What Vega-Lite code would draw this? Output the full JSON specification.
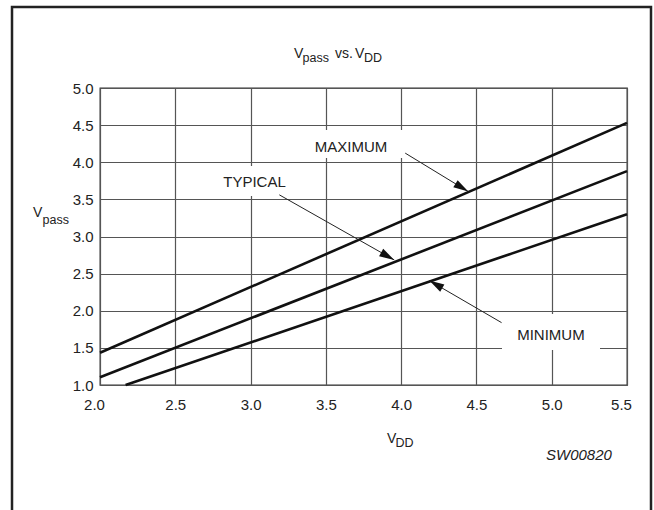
{
  "$schema": "https://vega.github.io/schema/vega-lite/v6.json",
  "width": 527,
  "height": 297,
  "autosize": {"type": "none"},
  "padding": {"left": 100, "top": 88, "right": 27, "bottom": 125},
  "background": "white",
  "config": {
    "font": "Liberation Sans",
    "view": {"stroke": "#333", "strokeWidth": 1.3},
    "axis": {
      "labelFont": "Liberation Sans",
      "labelFontSize": 15,
      "labelColor": "#222",
      "domain": false,
      "ticks": false,
      "grid": true,
      "gridColor": "#555",
      "gridWidth": 1.2,
      "gridOpacity": 1,
      "labelOverlap": false,
      "labelFlush": false
    }
  },
  "datasets": {
    "frame": [{"x": 1.4156, "x2": 5.6594, "y": 6.0909, "y2": -0.8182}],
    "boxes": [
      {"label": "MAXIMUM", "x": 3.3615, "x2": 4.019, "y": 4.4343, "y2": 4.0572},
      {"label": "TYPICAL", "x": 2.7438, "x2": 3.2951, "y": 3.9495, "y2": 3.5455},
      {"label": "MINIMUM", "x": 4.6698, "x2": 5.3207, "y": 1.9562, "y2": 1.4714}
    ],
    "curves": [
      {"series": "MAXIMUM", "x": 2.0, "y": 1.435},
      {"series": "MAXIMUM", "x": 5.5, "y": 4.53},
      {"series": "TYPICAL", "x": 2.0, "y": 1.105},
      {"series": "TYPICAL", "x": 5.5, "y": 3.88},
      {"series": "MINIMUM", "x": 2.17, "y": 1.0},
      {"series": "MINIMUM", "x": 5.5, "y": 3.3}
    ],
    "arrows": [
      {"label": "MAXIMUM", "x": 4.446, "y": 3.605, "xs": 4.027, "ys": 4.123},
      {"label": "TYPICAL", "x": 3.954, "y": 2.685, "xs": 3.191, "ys": 3.561},
      {"label": "MINIMUM", "x": 4.187, "y": 2.406, "xs": 4.667, "ys": 1.84}
    ],
    "annotations": [
      {"label": "MAXIMUM", "x": 3.667, "y": 4.138},
      {"label": "TYPICAL", "x": 3.026, "y": 3.667},
      {"label": "MINIMUM", "x": 4.995, "y": 1.606}
    ],
    "titleMain": [
      {"label": "V", "x": 3.2884, "y": 5.404},
      {"label": "vs.", "x": 3.5607, "y": 5.404},
      {"label": "V", "x": 3.6936, "y": 5.404}
    ],
    "titleSub": [
      {"label": "pass", "x": 3.3449, "y": 5.3502},
      {"label": "DD", "x": 3.7533, "y": 5.3502}
    ],
    "axisMain": [
      {"label": "V", "x": 1.555, "y": 3.2667},
      {"label": "V", "x": 3.9061, "y": 0.2189}
    ],
    "axisSub": [
      {"label": "pass", "x": 1.6181, "y": 3.1684},
      {"label": "DD", "x": 3.9626, "y": 0.1717}
    ],
    "code": [{"label": "SW00820", "x": 4.9621, "y": -0.0101}]
  },
  "encoding": {
    "x": {
      "field": "x", "type": "quantitative",
      "scale": {"domain": [2, 5.5], "nice": false, "zero": false},
      "axis": {
        "title": null,
        "values": [2, 2.5, 3, 3.5, 4, 4.5, 5, 5.5],
        "format": ".1f",
        "labelPadding": 12,
        "labelOffset": {"condition": {"test": "datum.value === 5.5 || datum.value === 2", "value": -6}, "value": 0}
      }
    },
    "y": {
      "field": "y", "type": "quantitative",
      "scale": {"domain": [1, 5], "nice": false, "zero": false},
      "axis": {"title": null, "values": [1, 1.5, 2, 2.5, 3, 3.5, 4, 4.5, 5], "format": ".1f", "labelPadding": 7}
    }
  },
  "layer": [
    {
      "data": {"name": "frame"},
      "mark": {"type": "rect", "fillOpacity": 0, "stroke": "#222", "strokeWidth": 2.5, "clip": false},
      "encoding": {"x2": {"field": "x2"}, "y2": {"field": "y2"}}
    },
    {
      "data": {"name": "boxes"},
      "mark": {"type": "rect", "fill": "white", "strokeWidth": 0},
      "encoding": {"x2": {"field": "x2"}, "y2": {"field": "y2"}}
    },
    {
      "data": {"name": "curves"},
      "mark": {"type": "line", "color": "#111", "strokeWidth": 2.6},
      "encoding": {"detail": {"field": "series", "type": "nominal"}}
    },
    {
      "data": {"name": "arrows"},
      "mark": {"type": "rule", "color": "#222", "strokeWidth": 1},
      "encoding": {"x2": {"field": "xs"}, "y2": {"field": "ys"}}
    },
    {
      "data": {"name": "arrows"},
      "transform": [{"filter": "datum.label === 'MAXIMUM'"}],
      "mark": {"type": "point", "shape": "M0,0 L0.28,1 L-0.28,1 Z", "filled": true, "color": "#111", "opacity": 1, "size": 900, "angle": 121.3},
      "encoding": {}
    },
    {
      "data": {"name": "arrows"},
      "transform": [{"filter": "datum.label === 'TYPICAL'"}],
      "mark": {"type": "point", "shape": "M0,0 L0.28,1 L-0.28,1 Z", "filled": true, "color": "#111", "opacity": 1, "size": 900, "angle": 119.5},
      "encoding": {}
    },
    {
      "data": {"name": "arrows"},
      "transform": [{"filter": "datum.label === 'MINIMUM'"}],
      "mark": {"type": "point", "shape": "M0,0 L0.28,1 L-0.28,1 Z", "filled": true, "color": "#111", "opacity": 1, "size": 900, "angle": 300.1},
      "encoding": {}
    },
    {
      "data": {"name": "annotations"},
      "mark": {"type": "text", "font": "Liberation Sans", "fontSize": 15, "color": "#222", "align": "center", "baseline": "alphabetic"},
      "encoding": {"text": {"field": "label"}}
    },
    {
      "data": {"name": "titleMain"},
      "mark": {"type": "text", "font": "Liberation Sans", "fontSize": 14, "color": "#222", "align": "left", "baseline": "alphabetic"},
      "encoding": {"text": {"field": "label"}}
    },
    {
      "data": {"name": "titleSub"},
      "mark": {"type": "text", "font": "Liberation Sans", "fontSize": 12.5, "color": "#222", "align": "left", "baseline": "alphabetic"},
      "encoding": {"text": {"field": "label"}}
    },
    {
      "data": {"name": "axisMain"},
      "mark": {"type": "text", "font": "Liberation Sans", "fontSize": 14, "color": "#222", "align": "left", "baseline": "alphabetic"},
      "encoding": {"text": {"field": "label"}}
    },
    {
      "data": {"name": "axisSub"},
      "mark": {"type": "text", "font": "Liberation Sans", "fontSize": 12.5, "color": "#222", "align": "left", "baseline": "alphabetic"},
      "encoding": {"text": {"field": "label"}}
    },
    {
      "data": {"name": "code"},
      "mark": {"type": "text", "font": "Liberation Sans", "fontSize": 15, "fontStyle": "italic", "color": "#222", "align": "left", "baseline": "alphabetic"},
      "encoding": {"text": {"field": "label"}}
    }
  ]
}
